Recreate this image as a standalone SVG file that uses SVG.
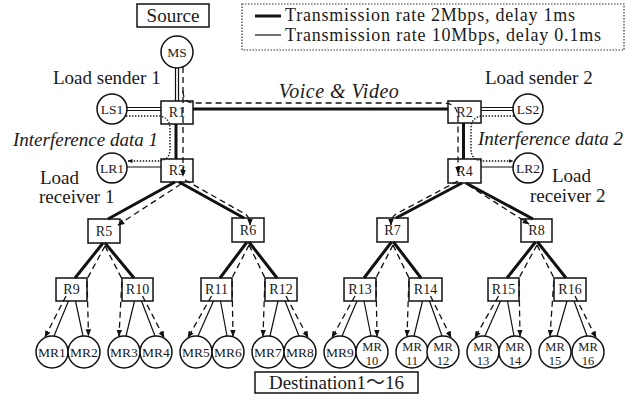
<svg xmlns="http://www.w3.org/2000/svg" width="642" height="398" viewBox="0 0 642 398">
<defs>
<style>
text{font-family:"Liberation Serif","Noto Sans CJK JP",serif;fill:#1a1a1a}
.lbl{font-size:19px}
.leg{font-size:18px}
.it{font-size:19px;font-style:italic}
.rt{font-size:14px;text-anchor:middle}
.mt{font-size:13.5px;text-anchor:middle}
.m2{font-size:12.5px;text-anchor:middle}
.box{fill:#fff;stroke:#111;stroke-width:1.5}
.cir{fill:#fff;stroke:#111;stroke-width:1.5}
.thick{stroke:#111;stroke-width:3;fill:none}
.thin{stroke:#111;stroke-width:1.2;fill:none}
.dash{stroke:#111;stroke-width:1.3;stroke-dasharray:6 4;fill:none}
.dot{stroke:#111;stroke-width:1.4;stroke-dasharray:1.4 1.6;fill:none}
</style>
<marker id="ah" viewBox="0 0 10 10" refX="9" refY="5" markerWidth="7" markerHeight="7" markerUnits="userSpaceOnUse" orient="auto"><path d="M0,1 L10,5 L0,9 z" fill="#111"/></marker>
<marker id="ahs" viewBox="0 0 10 10" refX="9" refY="5" markerWidth="5" markerHeight="5" markerUnits="userSpaceOnUse" orient="auto"><path d="M0,1 L10,5 L0,9 z" fill="#111"/></marker>
</defs>
<rect width="642" height="398" fill="#fff"/>

<g id="legend">
<rect x="242" y="4" width="382" height="46" fill="none" stroke="#333" stroke-width="1.2" stroke-dasharray="1.5 1.5"/>
<line class="thick" x1="255" y1="16" x2="281" y2="16"/>
<line class="thin" x1="255" y1="35" x2="281" y2="35"/>
<text class="leg" x="285" y="20.5" textLength="290" lengthAdjust="spacing">Transmission rate 2Mbps, delay 1ms</text>
<text class="leg" x="285" y="40.5" textLength="316" lengthAdjust="spacing">Transmission rate 10Mbps, delay 0.1ms</text>
</g>

<g id="labels">
<text class="lbl" x="53" y="84">Load sender 1</text>
<text class="it" x="13" y="146">Interference data 1</text>
<text class="lbl" x="40" y="184">Load</text>
<text class="lbl" x="39" y="203">receiver 1</text>
<text class="lbl" x="485" y="84">Load sender 2</text>
<text class="it" x="478" y="145">Interference data 2</text>
<text class="lbl" x="552" y="182">Load</text>
<text class="lbl" x="530" y="202">receiver 2</text>
<text class="it" x="339" y="98" text-anchor="middle" style="font-size:20px;letter-spacing:0.5px">Voice &amp; Video</text>
</g>

<g id="source"><rect class="box" x="137" y="4" width="72" height="23"/><text class="lbl" x="173" y="22" text-anchor="middle">Source</text></g>
<g id="destination"><rect class="box" x="255" y="372" width="163" height="21"/><text class="lbl" x="336.5" y="389" text-anchor="middle">Destination1〜16</text></g>

<g id="MS"><circle class="cir" cx="177" cy="52" r="16"/><text class="mt" x="177" y="57">MS</text></g>
<g id="LS1"><circle class="cir" cx="112" cy="109" r="15"/><text class="mt" x="112" y="114">LS1</text></g>
<g id="LR1"><circle class="cir" cx="112" cy="168" r="15"/><text class="mt" x="112" y="173">LR1</text></g>
<g id="LS2"><circle class="cir" cx="528" cy="109" r="15"/><text class="mt" x="528" y="114">LS2</text></g>
<g id="LR2"><circle class="cir" cx="528" cy="168" r="15"/><text class="mt" x="528" y="173">LR2</text></g>

<g id="R1"><rect class="box" x="161" y="101" width="32" height="23"/><text class="rt" x="177" y="117">R1</text></g>
<g id="R2"><rect class="box" x="448" y="101" width="33" height="22"/><text class="rt" x="464.5" y="117">R2</text></g>
<g id="R3"><rect class="box" x="161" y="159" width="32" height="23"/><text class="rt" x="177" y="175">R3</text></g>
<g id="R4"><rect class="box" x="448" y="159" width="33" height="24"/><text class="rt" x="464.5" y="176">R4</text></g>
<g id="R5"><rect class="box" x="88" y="219" width="32" height="24"/><text class="rt" x="104" y="236">R5</text></g>
<g id="R6"><rect class="box" x="232" y="218" width="32" height="24"/><text class="rt" x="248" y="235">R6</text></g>
<g id="R7"><rect class="box" x="377" y="218" width="31" height="24"/><text class="rt" x="392.5" y="235">R7</text></g>
<g id="R8"><rect class="box" x="521" y="219" width="31" height="23"/><text class="rt" x="536.5" y="235">R8</text></g>
<g id="R9"><rect class="box" x="56" y="278" width="31" height="23"/><text class="rt" x="71.5" y="294">R9</text></g>
<g id="R10"><rect class="box" x="122" y="278" width="31" height="23"/><text class="rt" x="137.5" y="294">R10</text></g>
<g id="R11"><rect class="box" x="201" y="278" width="31" height="23"/><text class="rt" x="216.5" y="294">R11</text></g>
<g id="R12"><rect class="box" x="265" y="278" width="32" height="23"/><text class="rt" x="281" y="294">R12</text></g>
<g id="R13"><rect class="box" x="344" y="278" width="32" height="23"/><text class="rt" x="360" y="294">R13</text></g>
<g id="R14"><rect class="box" x="409" y="278" width="33" height="23"/><text class="rt" x="425.5" y="294">R14</text></g>
<g id="R15"><rect class="box" x="488" y="278" width="31" height="23"/><text class="rt" x="503.5" y="294">R15</text></g>
<g id="R16"><rect class="box" x="554" y="278" width="32" height="23"/><text class="rt" x="570" y="294">R16</text></g>

<g id="MR1"><circle class="cir" cx="52" cy="352" r="16"/><text class="mt" x="52" y="357">MR1</text></g>
<g id="MR2"><circle class="cir" cx="84" cy="352" r="16"/><text class="mt" x="84" y="357">MR2</text></g>
<g id="MR3"><circle class="cir" cx="124" cy="352" r="16"/><text class="mt" x="124" y="357">MR3</text></g>
<g id="MR4"><circle class="cir" cx="156" cy="352" r="16"/><text class="mt" x="156" y="357">MR4</text></g>
<g id="MR5"><circle class="cir" cx="196" cy="352" r="16"/><text class="mt" x="196" y="357">MR5</text></g>
<g id="MR6"><circle class="cir" cx="228" cy="352" r="16"/><text class="mt" x="228" y="357">MR6</text></g>
<g id="MR7"><circle class="cir" cx="268" cy="352" r="16"/><text class="mt" x="268" y="357">MR7</text></g>
<g id="MR8"><circle class="cir" cx="300" cy="352" r="16"/><text class="mt" x="300" y="357">MR8</text></g>
<g id="MR9"><circle class="cir" cx="340" cy="352" r="16"/><text class="mt" x="340" y="357">MR9</text></g>
<g id="MR10"><circle class="cir" cx="372" cy="352" r="16"/><text class="m2" x="372" y="350.5">MR</text><text class="m2" x="372" y="364.5">10</text></g>
<g id="MR11"><circle class="cir" cx="412" cy="352" r="16"/><text class="m2" x="412" y="350.5">MR</text><text class="m2" x="412" y="364.5">11</text></g>
<g id="MR12"><circle class="cir" cx="443" cy="352" r="16"/><text class="m2" x="443" y="350.5">MR</text><text class="m2" x="443" y="364.5">12</text></g>
<g id="MR13"><circle class="cir" cx="483" cy="352" r="16"/><text class="m2" x="483" y="350.5">MR</text><text class="m2" x="483" y="364.5">13</text></g>
<g id="MR14"><circle class="cir" cx="515" cy="352" r="16"/><text class="m2" x="515" y="350.5">MR</text><text class="m2" x="515" y="364.5">14</text></g>
<g id="MR15"><circle class="cir" cx="555" cy="352" r="16"/><text class="m2" x="555" y="350.5">MR</text><text class="m2" x="555" y="364.5">15</text></g>
<g id="MR16"><circle class="cir" cx="588" cy="352" r="16"/><text class="m2" x="588" y="350.5">MR</text><text class="m2" x="588" y="364.5">16</text></g>

<g id="connectors">
<path class="thin" d="M175.5,68 V101 M178.5,68 V101"/>
<path class="thin" d="M127,107.5 H161 M127,110.5 H161"/>
<path class="thin" d="M481,107.5 H513 M481,110.5 H513"/>
<path class="thin" d="M127,167 H161 M481,167 H513"/>
<path class="thick" d="M193,109 H448 M176,124 V159 M463.5,123 V159"/>
<path class="thick" d="M175,182 L108,219 M179,182 L244,218 M462,183 L396,218 M466,183 L533,219"/>
<path class="thick" d="M103,243 L75,278 M105,243 L134,278 M247,242 L220,278 M249,242 L277,278 M391.5,242 L364,278 M393.5,242 L421,278 M535.5,242 L507,278 M537.5,242 L566,278"/>
<path class="thin" d="M68.5,301 L54,336 M75.5,301 L83,336 M134.5,301 L126,336 M141.5,301 L155,336 M213.5,301 L198,336 M220.5,301 L227,336 M278,301 L270,336 M285,301 L299,336 M357,301 L342,336 M364,301 L371,336 M422.5,301 L414,336 M429.5,301 L442,336 M500.5,301 L485,336 M507.5,301 L514,336 M567,301 L557,336 M574,301 L587,336"/>
<path class="dash" d="M183,67 V176" marker-end="url(#ah)"/>
<path class="dash" d="M183,91 Q183,103 195,103 H443 Q458,103 458,118 V173" marker-end="url(#ah)"/>
<path class="dash" d="M181,184 L118,225" marker-end="url(#ah)"/>
<path class="dash" d="M185,180 L245,214 Q250,217 250,225" marker-end="url(#ah)"/>
<path class="dash" d="M458,181 L396,214 Q391,217 391,225" marker-end="url(#ah)"/>
<path class="dash" d="M468,185 L529,224" marker-end="url(#ah)"/>
<path class="dash" d="M105,246 L87,279 L88.5,335.5" marker-end="url(#ah)"/>
<path class="dash" d="M105,246 L122,279 L119,336" marker-end="url(#ah)"/>
<path class="dash" d="M66,296 L45,337" marker-end="url(#ah)"/>
<path class="dash" d="M142.5,296 L164,337.5" marker-end="url(#ah)"/>
<path class="dash" d="M249,245 L232,278 L233,336" marker-end="url(#ah)"/>
<path class="dash" d="M249,245 L265,278 L263,336" marker-end="url(#ah)"/>
<path class="dash" d="M211.5,296 L188,337.5" marker-end="url(#ah)"/>
<path class="dash" d="M286,296 L308,337.5" marker-end="url(#ah)"/>
<path class="dash" d="M393,245 L376,278 L377,336" marker-end="url(#ah)"/>
<path class="dash" d="M393,245 L409,278 L407,336" marker-end="url(#ah)"/>
<path class="dash" d="M355,296 L332,337.5" marker-end="url(#ah)"/>
<path class="dash" d="M430.5,296 L451,337.5" marker-end="url(#ah)"/>
<path class="dash" d="M537,245 L519,278 L520,336" marker-end="url(#ah)"/>
<path class="dash" d="M537,245 L554,278 L550,336" marker-end="url(#ah)"/>
<path class="dash" d="M498.5,296 L475,337.5" marker-end="url(#ah)"/>
<path class="dash" d="M575,296 L596,337.5" marker-end="url(#ah)"/>
<path class="dot" d="M126,116 H157 Q170,116 170,129 V149 Q170,161 157,161 H128" marker-end="url(#ahs)"/>
<path class="dot" d="M514,116 H484 Q471,116 471,129 V149 Q471,161 484,161 H513" marker-end="url(#ahs)"/>
</g>
</svg>
